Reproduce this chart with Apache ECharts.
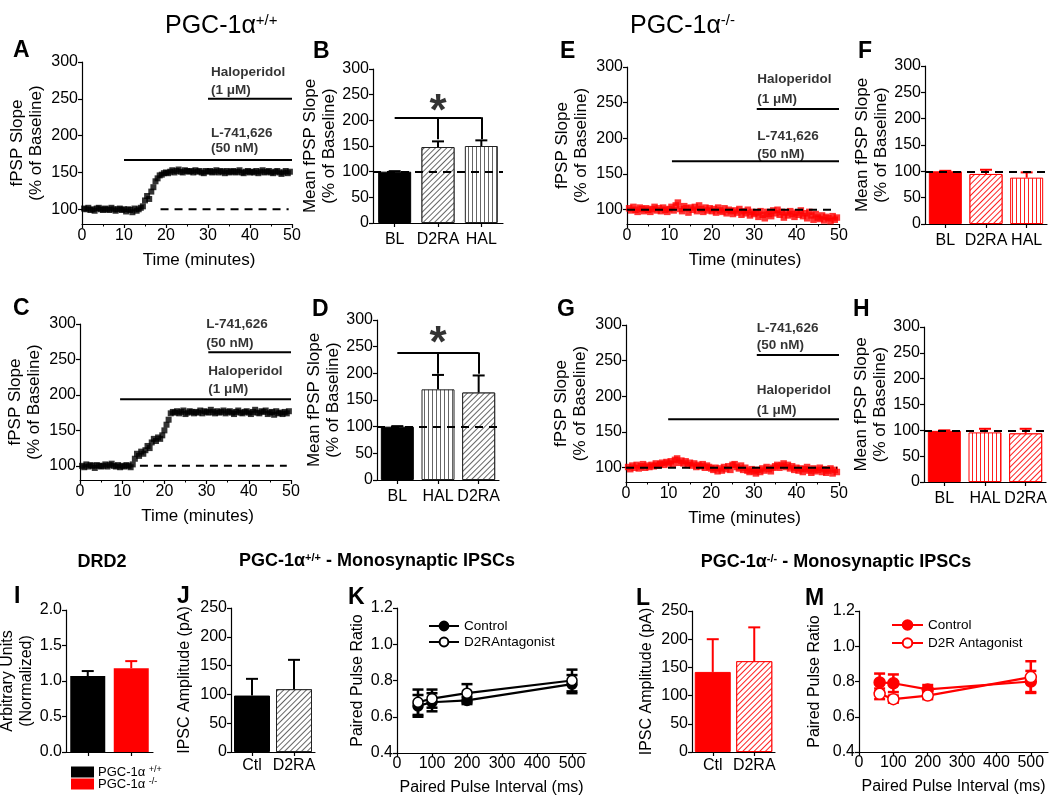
<!DOCTYPE html>
<html>
<head>
<meta charset="utf-8">
<script src="https://cdn.jsdelivr.net/npm/echarts@6/dist/echarts.min.js"></script>
<style>
  html, body { margin: 0; background: #fff; }
  #chart { width: 1050px; height: 797px; }
</style>
</head>
<body>
<div id="chart"></div>
<script>
const FONT = '"Liberation Sans", Arial, sans-serif';

// fPSP slope traces (% of baseline), one sample every 0.5 min starting at 0.5 min
const sampleStep = 0.5;
const traceA = [
  101,100,102,99,100,98,101,102,100,99,
  101,100,99,102,100,98,100,101,99,100,
  97,100,99,96,101,98,100,102,104,112,
  118,114,124,130,138,142,146,147,149,150,
  149,151,153,150,152,154,151,150,153,152,
  151,152,150,153,151,152,150,149,152,151,
  152,150,151,153,150,152,151,149,152,150,
  151,152,150,151,153,150,149,151,152,150,
  151,150,152,149,151,153,150,151,152,150,
  149,151,152,150,148,150,152,149,151
];
const traceC = [
  100,98,102,99,101,100,97,101,100,99,
  100,102,99,101,103,100,99,101,98,100,
  99,101,100,98,102,110,117,114,120,117,
  122,128,125,133,138,135,140,138,143,150,
  158,165,174,176,175,177,174,176,178,173,
  175,177,176,174,176,175,178,174,177,176,
  175,179,176,174,177,175,176,178,174,176,
  177,175,173,176,178,175,174,176,177,175,
  173,176,179,175,174,177,176,178,173,175,
  176,172,177,174,175,173,176,174,177
];
const traceE = [
  102,99,104,100,97,103,101,98,102,100,
  97,101,104,99,102,98,103,100,97,101,
  104,99,106,110,101,98,105,102,96,103,
  100,104,98,106,101,97,103,99,102,98,
  101,96,103,99,97,102,95,100,98,94,
  99,96,101,93,98,95,100,92,97,94,
  96,90,98,93,88,97,94,91,99,95,
  100,93,97,89,96,92,98,94,90,96,
  93,99,91,95,88,97,92,86,94,89,
  87,92,85,90,88,84,91,86,89
];
const traceG = [
  101,98,103,100,104,99,102,105,100,103,
  101,104,102,106,103,105,107,104,108,106,
  109,105,111,113,107,110,106,109,104,107,
  103,106,101,104,102,105,100,103,101,99,
  97,100,95,99,96,101,98,102,97,104,
  105,101,99,103,97,100,96,94,98,95,
  92,97,94,99,96,101,98,95,100,102,
  104,100,103,106,101,104,99,102,97,100,
  96,99,94,98,101,96,93,99,95,97,
  100,94,98,93,96,99,92,97,94
];
// dashed 100 % reference, [from, to] in minutes
const baseA = [18.7, 49.2];
const baseC = [14.2, 49];
const baseE = [0, 48.7];
const baseG = [0, 49.5];
// drug application bars: [start, end, level]
const drugA = [[30, 50, 250], [10, 50, 167]];
const drugC = [[30.4, 50, 260], [9.5, 50, 194]];
const drugE = [[30.6, 50, 241], [10.6, 50, 168]];
const drugG = [[30.7, 50, 258], [9.9, 50, 168]];
// drug names: [text, minute, level]
const notesA = [['Haloperidol', 30.6, 286], ['(1 \u03bcM)', 30.6, 261], ['L-741,626', 30.6, 203], ['(50 nM)', 30.6, 183]];
const notesC = [['L-741,626', 29.8, 299], ['(50 nM)', 29.8, 273], ['Haloperidol', 30.3, 234], ['(1 \u03bcM)', 30.3, 208]];
const notesE = [['Haloperidol', 30.6, 283], ['(1 \u03bcM)', 30.6, 255], ['L-741,626', 30.6, 203], ['(50 nM)', 30.6, 177]];
const notesG = [['L-741,626', 30.6, 295], ['(50 nM)', 30.6, 272], ['Haloperidol', 30.6, 209], ['(1 \u03bcM)', 30.6, 181]];
const traceTicks = [100, 150, 200, 250, 300];

// mean fPSP slope bars
const catsB = ['BL', 'D2RA', 'HAL'];
const valsB = [100, 148, 150];
const errB = [1, 11, 11];
const catsD = ['BL', 'HAL', 'D2RA'];
const valsD = [100, 170, 164];
const errD = [1, 27, 32];
const catsF = ['BL', 'D2RA', 'HAL'];
const valsF = [100, 95, 88];
const errF = [1, 8, 10];
const catsH = ['BL', 'HAL', 'D2RA'];
const valsH = [99, 96, 94];
const errH = [1, 7, 9];
// significance brackets: [left cat, right cat, level, drop-to level], star [cat, level]
const bracketB = ['BL', 'HAL', 206, 163];
const starB = ['D2RA', 214];
const bracketD = ['BL', 'D2RA', 239, 199];
const starD = ['HAL', 253];

// DRD2
const drd2Groups = ['+/+', '-/-'];
const drd2Vals = [1.07, 1.18];
const drd2Err = [0.07, 0.10];

// IPSC amplitudes
const ipscCats = ['Ctl', 'D2RA'];
const ipscValsJ = [98, 109];
const ipscErrJ = [29, 51];
const ipscValsL = [142, 161];
const ipscErrL = [58, 60];

// paired pulse ratio
const ppIntervals = [60, 100, 200, 500];
const ppTicks = [0, 100, 200, 300, 400, 500];
const ppCtlK = [0.66, 0.68, 0.69, 0.78];
const ppCtlErrK = [0.06, 0.05, 0.02, 0.05];
const ppAntK = [0.68, 0.70, 0.73, 0.80];
const ppAntErrK = [0.07, 0.05, 0.05, 0.06];
const ppCtlM = [0.795, 0.79, 0.755, 0.80];
const ppCtlErrM = [0.05, 0.05, 0.025, 0.06];
const ppAntM = [0.73, 0.70, 0.72, 0.825];
const ppAntErrM = [0.03, 0.02, 0.02, 0.09];

function merge(a, b) {
  const out = Object.assign({}, a);
  for (const k in b) {
    const v = b[k];
    if (v && typeof v === 'object' && !Array.isArray(v) && a[k] && typeof a[k] === 'object' && !Array.isArray(a[k])) {
      out[k] = merge(a[k], v);
    } else {
      out[k] = v;
    }
  }
  return out;
}

// vertical stripes as a small repeating canvas
function stripes(color) {
  const c = document.createElement('canvas');
  c.width = 4; c.height = 4;
  const g = c.getContext('2d');
  g.fillStyle = '#fff';
  g.fillRect(0, 0, 4, 4);
  g.fillStyle = color;
  g.fillRect(0, 0, 1, 4);
  return { image: c, repeat: 'repeat' };
}

function barStyle(cat, red) {
  const edge = red ? '#f00' : '#222';
  const ink = red ? '#ff2020' : '#666';
  if (cat === 'D2RA') {
    return {
      color: '#fff', borderColor: edge, borderWidth: 1,
      decal: { symbol: 'rect', symbolSize: 1, color: ink, backgroundColor: '#fff',
               dashArrayX: [1, 0], dashArrayY: [1, 2.2], rotation: -Math.PI / 4 }
    };
  }
  if (cat === 'HAL') return { color: stripes(ink), borderColor: edge, borderWidth: 1 };
  return { color: red ? '#f00' : '#000', borderColor: red ? '#f00' : '#000', borderWidth: 1 };
}

const base = {
  axisLine: { show: true, onZero: false, lineStyle: { color: '#000', width: 1.2 } },
  axisTick: { show: true, inside: false, length: 4, lineStyle: { color: '#000', width: 1.2 } },
  axisLabel: { color: '#000', fontSize: 16, fontFamily: FONT, margin: 4 },
  splitLine: { show: false },
  nameLocation: 'middle',
  nameTextStyle: { color: '#000', fontSize: 17, fontFamily: FONT, lineHeight: 19 }
};

const grids = [
  { left: 82, top: 62, width: 210, height: 162 },   // A
  { left: 373, top: 69, width: 130, height: 154 },  // B
  { left: 80, top: 324, width: 211, height: 156 },  // C
  { left: 377, top: 320, width: 122, height: 160 }, // D
  { left: 627, top: 67, width: 212, height: 157 },  // E
  { left: 925, top: 66, width: 122, height: 158 },  // F
  { left: 626, top: 325, width: 213, height: 157 }, // G
  { left: 924, top: 327, width: 122, height: 155 }, // H
  { left: 66, top: 610, width: 87, height: 142 },   // I
  { left: 231, top: 608, width: 84, height: 144 },  // J
  { left: 397, top: 608, width: 189, height: 145 }, // K
  { left: 692, top: 611, width: 83, height: 141 },  // L
  { left: 859, top: 611, width: 189, height: 141 }  // M
].map(g => Object.assign({ outerBoundsMode: 'none', containLabel: false }, g));

const xAxes = [];
const yAxes = [];
const series = [];

function errorSeries(gi, data, colors, upOnly, cap, lw) {
  return {
    type: 'custom', xAxisIndex: gi, yAxisIndex: gi, z: 3, silent: true, data,
    renderItem(params, api) {
      const color = Array.isArray(colors) ? colors[params.dataIndex] : colors;
      const x = api.value(0), y = api.value(1), e = api.value(2);
      const p0 = api.coord([x, upOnly ? y : y - e]);
      const p1 = api.coord([x, y + e]);
      const st = { stroke: color, lineWidth: lw };
      const kids = [
        { type: 'line', shape: { x1: p0[0], y1: p0[1], x2: p1[0], y2: p1[1] }, style: st },
        { type: 'line', shape: { x1: p1[0] - cap / 2, y1: p1[1], x2: p1[0] + cap / 2, y2: p1[1] }, style: st }
      ];
      if (!upOnly) kids.push({ type: 'line', shape: { x1: p0[0] - cap / 2, y1: p0[1], x2: p0[0] + cap / 2, y2: p0[1] }, style: st });
      return { type: 'group', children: kids };
    }
  };
}

function tracePanel(gi, trace, color, size, baseRange, drugs, notes) {
  xAxes.push(merge(base, {
    gridIndex: gi, type: 'value', min: 0, max: 50, interval: 10,
    minorTick: { show: true, splitNumber: 2, length: 2.5, lineStyle: { color: '#000' } },
    name: 'Time (minutes)', nameGap: 27, nameTextStyle: { padding: [0, 0, 0, 24] }
  }));
  yAxes.push(merge(base, {
    gridIndex: gi, type: 'value', min: 80, max: 300,
    axisLabel: { customValues: traceTicks },
    axisTick: { customValues: traceTicks },
    name: 'fPSP Slope\n(% of Baseline)', nameGap: 36
  }));
  series.push({
    type: 'scatter', xAxisIndex: gi, yAxisIndex: gi, symbol: 'rect', symbolSize: size, silent: true,
    itemStyle: { color }, z: 2,
    data: trace.map((v, i) => [(i + 1) * sampleStep, v])
  });
  series.push({
    type: 'line', xAxisIndex: gi, yAxisIndex: gi, symbol: 'none', silent: true, z: 4,
    lineStyle: { color: '#000', width: 2, type: [8, 6] },
    data: [[baseRange[0], 100], [baseRange[1], 100]]
  });
  drugs.forEach(d => series.push({
    type: 'line', xAxisIndex: gi, yAxisIndex: gi, symbol: 'none', silent: true, z: 4,
    lineStyle: { color: '#000', width: 2 },
    data: [[d[0], d[2]], [d[1], d[2]]]
  }));
  series.push({
    type: 'scatter', xAxisIndex: gi, yAxisIndex: gi, symbolSize: 1, silent: true, z: 5,
    itemStyle: { color: 'transparent' },
    label: { show: true, position: 'right', distance: 0, formatter: '{b}', color: '#000',
             fontSize: 13.5, fontWeight: 'bold', fontFamily: FONT },
    data: notes.map(n => ({ name: n[0], value: [n[1], n[2]] }))
  });
}

const catAxis = { axisTick: { alignWithLabel: true }, axisLabel: { interval: 0, hideOverlap: false } };

function meanBarPanel(gi, cats, vals, errs, red, bracket, star) {
  xAxes.push(merge(merge(base, catAxis), {
    gridIndex: gi, type: 'category', data: cats, axisLabel: { margin: 9 }
  }));
  yAxes.push(merge(base, {
    gridIndex: gi, type: 'value', min: 0, max: 300, interval: 50,
    name: 'Mean fPSP Slope\n(% of Baseline)', nameGap: 31
  }));
  const marks = [{ yAxis: 100, lineStyle: { type: [8, 6], width: 2, color: '#000' } }];
  if (bracket) {
    const solid = { type: 'solid', width: 2, color: '#000' };
    marks.push([{ coord: [bracket[0], bracket[2]], lineStyle: solid }, { coord: [bracket[1], bracket[2]] }]);
    cats.slice(1).forEach(c => marks.push([{ coord: [c, bracket[2]], lineStyle: solid }, { coord: [c, bracket[3]] }]));
  }
  series.push({
    type: 'bar', xAxisIndex: gi, yAxisIndex: gi, barWidth: 33, silent: true,
    data: vals.map((v, i) => ({ value: v, itemStyle: barStyle(cats[i], red) })),
    markLine: { silent: true, symbol: 'none', label: { show: false }, data: marks }
  });
  series.push(errorSeries(gi, vals.map((v, i) => [i, v, errs[i]]), red ? '#f00' : '#000', true, 12, 2));
  if (star) {
    series.push({
      type: 'scatter', xAxisIndex: gi, yAxisIndex: gi, symbolSize: 1, silent: true, z: 5,
      itemStyle: { color: 'transparent' },
      label: { show: true, position: 'inside', formatter: '*', color: '#000', fontSize: 44, fontWeight: 'bold', fontFamily: FONT },
      data: [star]
    });
  }
}

tracePanel(0, traceA, '#000', 6, baseA, drugA, notesA);
meanBarPanel(1, catsB, valsB, errB, false, bracketB, starB);
tracePanel(2, traceC, '#000', 6, baseC, drugC, notesC);
meanBarPanel(3, catsD, valsD, errD, false, bracketD, starD);
tracePanel(4, traceE, '#f00', 6.5, baseE, drugE, notesE);
meanBarPanel(5, catsF, valsF, errF, true, null, null);
tracePanel(6, traceG, '#f00', 6.5, baseG, drugG, notesG);
meanBarPanel(7, catsH, valsH, errH, true, null, null);

// I: DRD2
xAxes.push(merge(merge(base, catAxis), { gridIndex: 8, type: 'category', data: drd2Groups, axisLabel: { show: false } }));
yAxes.push(merge(base, {
  gridIndex: 8, type: 'value', min: 0, max: 2, interval: 0.5,
  axisLabel: { formatter: v => v.toFixed(1) },
  name: 'Arbitrary Units\n(Normalized)', nameGap: 27, nameTextStyle: { fontSize: 16 }
}));
series.push({
  type: 'bar', xAxisIndex: 8, yAxisIndex: 8, barWidth: 35, silent: true,
  data: drd2Vals.map((v, i) => ({ value: v, itemStyle: { color: i ? '#f00' : '#000' } }))
});
series.push(errorSeries(8, drd2Vals.map((v, i) => [i, v, drd2Err[i]]), ['#000', '#f00'], true, 12, 2));

// J and L: IPSC amplitude
function ipscPanel(gi, vals, errs, red, gap) {
  xAxes.push(merge(merge(base, catAxis), { gridIndex: gi, type: 'category', data: ipscCats, axisLabel: { margin: 6 } }));
  yAxes.push(merge(base, {
    gridIndex: gi, type: 'value', min: 0, max: 250, interval: 50,
    name: 'IPSC Amplitude (pA)', nameGap: gap, nameTextStyle: { fontSize: 16 }
  }));
  series.push({
    type: 'bar', xAxisIndex: gi, yAxisIndex: gi, barWidth: 36, silent: true,
    data: vals.map((v, i) => ({ value: v, itemStyle: barStyle(ipscCats[i], red) }))
  });
  series.push(errorSeries(gi, vals.map((v, i) => [i, v, errs[i]]), red ? '#f00' : '#000', true, 12, 2));
}
ipscPanel(9, ipscValsJ, ipscErrJ, false, 37);

// K and M: paired pulse ratio
function ppPanel(gi, xmax, ctl, ctlErr, ant, antErr, color, tag, antName, msize) {
  xAxes.push(merge(base, {
    gridIndex: gi, type: 'value', min: 0, max: xmax,
    axisLabel: { customValues: ppTicks, margin: 3 },
    axisTick: { customValues: ppTicks },
    name: 'Paired Pulse Interval (ms)', nameGap: 25, nameTextStyle: { fontSize: 16 }
  }));
  yAxes.push(merge(base, {
    gridIndex: gi, type: 'value', min: 0.4, max: 1.2, interval: 0.2,
    axisLabel: { formatter: v => v.toFixed(1) },
    name: 'Paired Pulse Ratio', nameGap: gi === 10 ? 28 : 35, nameTextStyle: { fontSize: 16 }
  }));
  series.push(errorSeries(gi, ppIntervals.map((x, i) => [x, ctl[i], ctlErr[i]]), color, false, 11, 2.5));
  series.push(errorSeries(gi, ppIntervals.map((x, i) => [x, ant[i], antErr[i]]), color, false, 11, 2.5));
  series.push({
    type: 'line', name: tag + 'Control', xAxisIndex: gi, yAxisIndex: gi, silent: true, z: 4,
    symbol: 'circle', symbolSize: msize,
    lineStyle: { color, width: 2.2 },
    itemStyle: { color, borderColor: color, borderWidth: 1.5 },
    data: ppIntervals.map((x, i) => [x, ctl[i]])
  });
  series.push({
    type: 'line', name: tag + antName, xAxisIndex: gi, yAxisIndex: gi, silent: true, z: 4,
    symbol: 'circle', symbolSize: msize,
    lineStyle: { color, width: 2.2 },
    itemStyle: { color: '#fff', borderColor: color, borderWidth: 1.5 },
    data: ppIntervals.map((x, i) => [x, ant[i]])
  });
}
ppPanel(10, 540, ppCtlK, ppCtlErrK, ppAntK, ppAntErrK, '#000', 'K-', 'D2RAntagonist', 10);
ipscPanel(11, ipscValsL, ipscErrL, true, 36);
ppPanel(12, 550, ppCtlM, ppCtlErrM, ppAntM, ppAntErrM, '#f00', 'M-', 'D2R Antagonist', 11);

function txt(x, y, text, size, bold, align, rich) {
  return {
    type: 'text', x, y, silent: true,
    style: {
      text, fill: '#000', font: (bold ? 'bold ' : '') + size + 'px ' + FONT,
      textAlign: align || 'left', align: align || 'left',
      textVerticalAlign: 'middle', verticalAlign: 'middle', rich
    }
  };
}
const supRich = s => ({ s: { fontSize: s, fontFamily: FONT, verticalAlign: 'top', fill: '#000' } });
const supRichBold = s => ({ s: { fontSize: s, fontFamily: FONT, fontWeight: 'bold', verticalAlign: 'top', fill: '#000' } });

const letters = [
  ['A', 13, 51], ['B', 313, 52], ['C', 13, 309], ['D', 312, 310],
  ['E', 560, 52], ['F', 858, 52], ['G', 557, 310], ['H', 853, 310],
  ['I', 14, 597], ['J', 177, 597], ['K', 348, 598], ['L', 636, 599], ['M', 805, 599]
];

const graphic = letters.map(l => txt(l[1], l[2], l[0], 23, true));
graphic.push(txt(165, 26, 'PGC-1\u03b1{s|+/+}', 25, false, 'left', supRich(15)));
graphic.push(txt(630, 26, 'PGC-1\u03b1{s|-/-}', 25, false, 'left', supRich(15)));
graphic.push(txt(102, 562, 'DRD2', 18, true, 'center'));
graphic.push(txt(377, 561, 'PGC-1\u03b1{s|+/+} - Monosynaptic IPSCs', 18, true, 'center', supRichBold(11)));
graphic.push(txt(836, 562, 'PGC-1\u03b1{s|-/-} - Monosynaptic IPSCs', 18, true, 'center', supRichBold(11)));
// DRD2 legend
graphic.push({ type: 'rect', silent: true, shape: { x: 71, y: 766.5, width: 23, height: 11 }, style: { fill: '#000' } });
graphic.push({ type: 'rect', silent: true, shape: { x: 71, y: 778.5, width: 23, height: 11 }, style: { fill: '#f00' } });
graphic.push(txt(98, 772, 'PGC-1\u03b1 {s|+/+}', 13, false, 'left', supRich(9)));
graphic.push(txt(98, 784, 'PGC-1\u03b1 {s|-/-}', 13, false, 'left', supRich(9)));

const legendBase = {
  orient: 'vertical', selectedMode: false,
  formatter: n => n.slice(2),
  textStyle: { fontSize: 13.5, color: '#000', fontFamily: FONT }
};

const chart = echarts.init(document.getElementById('chart'), null, { renderer: 'canvas' });
chart.setOption({
  animation: false,
  backgroundColor: '#fff',
  grid: grids,
  xAxis: xAxes,
  yAxis: yAxes,
  legend: [
    Object.assign({}, legendBase, { data: ['K-Control', 'K-D2RAntagonist'], left: 423, top: 614, itemWidth: 30, itemHeight: 11, itemGap: 2 }),
    Object.assign({}, legendBase, { data: ['M-Control', 'M-D2R Antagonist'], left: 886, top: 613, itemWidth: 31, itemHeight: 12, itemGap: 4 })
  ],
  series,
  graphic
});
window.addEventListener('resize', () => chart.resize());
</script>
</body>
</html>
